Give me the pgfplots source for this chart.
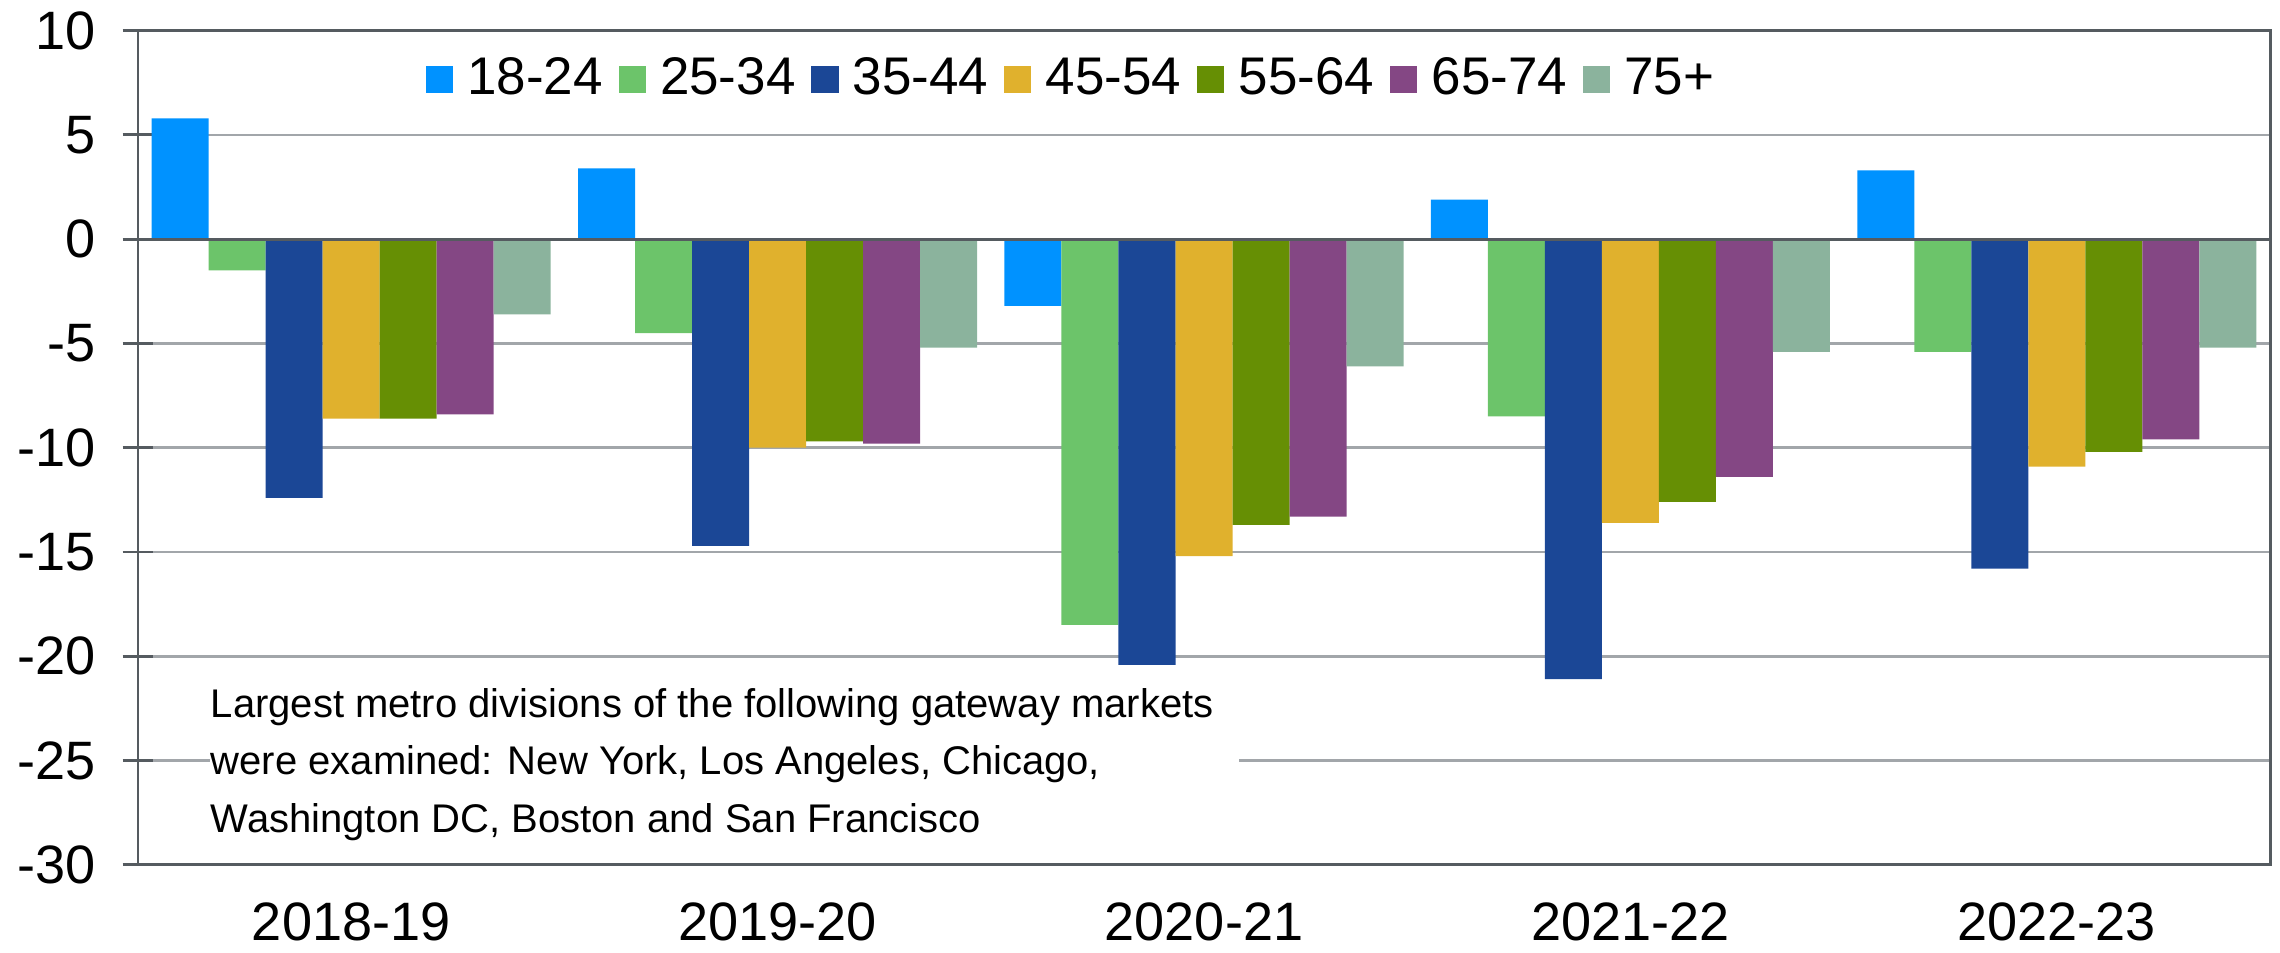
\documentclass[border=0pt]{standalone}
\usepackage{fontspec}
\setmainfont{Liberation Sans}
\usepackage{pgfplots}
\pgfplotsset{compat=1.18}
\usetikzlibrary{calc}
\definecolor{c1}{HTML}{0092FF}
\definecolor{c2}{HTML}{6CC46A}
\definecolor{c3}{HTML}{1B4796}
\definecolor{c4}{HTML}{E0B12D}
\definecolor{c5}{HTML}{668F04}
\definecolor{c6}{HTML}{844784}
\definecolor{c7}{HTML}{8BB39D}
\definecolor{frame}{HTML}{555B60}
\definecolor{gridc}{HTML}{A2A6AA}
\pgfplotsset{
  mybar/.style 2 args={fill=#1, draw=none, bar shift=#2,
    legend image code/.code={\fill[#1] (0pt,-3.65pt) rectangle (7.3pt,3.65pt);}},
}
\begin{document}
\begin{tikzpicture}
\begin{axis}[name=ax, scale only axis, width=575.6pt, height=225.2pt,
  xmin=-0.5, xmax=4.5, ymin=-30, ymax=10,
  ytick={-30,-25,...,10}, xtick={0,1,2,3,4},
  xticklabels={2018-19,2019-20,2020-21,2021-22,2022-23},
  ybar, bar width=0.1337,
  axis line style={draw=frame, line width=0.8pt},
  ymajorgrids, grid style={draw=gridc, line width=0.7pt},
  major tick length=8.3pt, tick align=center,
  ytick pos=left,
  y tick style={draw=frame, line width=0.8pt},
  x tick style={draw=none},
  /pgf/number format/assume math mode=true,
  ticklabel style={font=\fontsize{14.6}{17}\selectfont, inner sep=0pt},
  yticklabel style={anchor=east, xshift=-7.1pt},
  xticklabel style={anchor=north, yshift=-5.9pt},
  legend columns=7,
  legend style={at={(0.1346,0.942)}, anchor=west, draw=none, fill=none,
    inner sep=0pt, font=\fontsize{14.3}{17}\selectfont,
    nodes={inner sep=0pt},
    /tikz/every odd column/.append style={column sep=3.9pt},
    /tikz/every even column/.append style={column sep=4.3pt}},
]
\addplot[mybar={c1}{-0.4011}] coordinates {(0,5.8) (1,3.4) (2,-3.2) (3,1.9) (4,3.3)};
\addplot[mybar={c2}{-0.2674}] coordinates {(0,-1.5) (1,-4.5) (2,-18.5) (3,-8.5) (4,-5.4)};
\addplot[mybar={c3}{-0.1337}] coordinates {(0,-12.4) (1,-14.7) (2,-20.6) (3,-21.1) (4,-15.8)};
\addplot[mybar={c4}{0}] coordinates {(0,-8.6) (1,-10.0) (2,-15.2) (3,-13.6) (4,-10.9)};
\addplot[mybar={c5}{0.1337}] coordinates {(0,-8.6) (1,-9.7) (2,-13.7) (3,-12.6) (4,-10.2)};
\addplot[mybar={c6}{0.2674}] coordinates {(0,-8.4) (1,-9.8) (2,-13.3) (3,-11.4) (4,-9.6)};
\addplot[mybar={c7}{0.4011}] coordinates {(0,-3.6) (1,-5.2) (2,-6.1) (3,-5.4) (4,-5.2)};
\legend{18-24,25-34,35-44,45-54,55-64,65-74,75+}
\draw[frame, line width=0.8pt] (axis cs:-0.5,0) -- (axis cs:4.5,0);
\draw[frame, line width=0.6pt] ($(axis cs:0.5,0)+(0,-4.3pt)$) -- ($(axis cs:0.5,0)+(0,4.3pt)$);
\draw[frame, line width=0.6pt] ($(axis cs:1.5,0)+(0,-4.3pt)$) -- ($(axis cs:1.5,0)+(0,4.3pt)$);
\draw[frame, line width=0.6pt] ($(axis cs:2.5,0)+(0,-4.3pt)$) -- ($(axis cs:2.5,0)+(0,4.3pt)$);
\draw[frame, line width=0.6pt] ($(axis cs:3.5,0)+(0,-4.3pt)$) -- ($(axis cs:3.5,0)+(0,4.3pt)$);
\fill[white] (axis cs:-0.331,-20.43) rectangle (axis cs:2.082,-29.75);
\node[anchor=north west, inner sep=0pt, align=left,
  font=\fontsize{10.8}{15.5}\selectfont] at (axis cs:-0.331,-21.5)
  {Largest metro divisions of the following gateway markets\\
   were examined: New York, Los Angeles, Chicago,\\
   Washington DC, Boston and San Francisco};
\end{axis}
\pgfresetboundingbox
\path ($(ax.south west)+(-37.26pt,-23.57pt)$) rectangle ($(ax.north east)+(2.7pt,8.29pt)$);
\end{tikzpicture}
\end{document}
